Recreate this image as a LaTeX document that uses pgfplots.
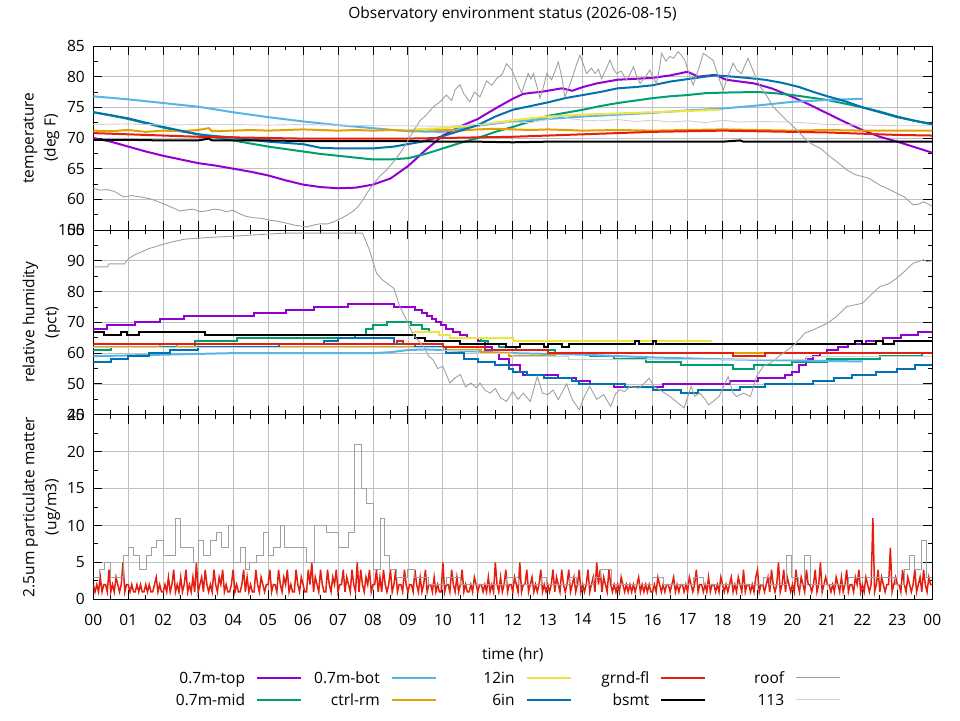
\documentclass[border=0pt]{standalone}
\usepackage{fontspec}
\setmainfont{Open Sans}
\usepackage{pgfplots}
\pgfplotsset{compat=1.18}
\usepackage{pgfplotstable}
\definecolor{cpurple}{HTML}{9400D3}
\definecolor{cgreen}{HTML}{009E73}
\definecolor{clblue}{HTML}{56B4E9}
\definecolor{corange}{HTML}{E69F00}
\definecolor{cyellow}{HTML}{F0E442}
\definecolor{cblue}{HTML}{0072B2}
\definecolor{cred}{HTML}{E51E10}
\definecolor{croof}{HTML}{A0A0A0}
\definecolor{cone}{HTML}{D0D0D0}
\definecolor{cgrid}{HTML}{C0C0C0}
\pgfplotsset{
  panel/.style={
    scale only axis, width=839pt, xmin=0, xmax=24,
    xtick={0,...,24}, minor x tick num=1, minor y tick num=1,
    tick align=inside, major tick length=9pt, minor tick length=4.5pt,
    grid=major, major grid style={cgrid, line width=0.8pt},
    axis line style={line width=0.9pt},
    every tick/.append style={black, line width=0.9pt},
    yticklabel style={xshift=-5pt},
    /pgf/number format/assume math mode=true,
    ylabel style={align=center, at={(axis description cs:-0.062,0.5)}, anchor=center, font=\fontsize{15.5}{22}\selectfont},
    anchor=south west,
  },
  main/.style={line width=2pt},
  thin/.style={line width=0.9pt},
}
% 2.5um particulate matter, grnd-fl, one value every 3 minutes
\pgfplotstableread[row sep=\\]{
y\\
2\\1\\2\\1\\3\\1\\2\\2\\1\\4\\1\\2\\1\\3\\2\\1\\2\\5\\1\\2\\
2\\1\\2\\1\\1\\2\\1\\2\\1\\1\\2\\1\\2\\1\\1\\2\\3\\1\\2\\1\\
1\\2\\1\\3\\1\\2\\4\\1\\2\\1\\3\\1\\2\\4\\1\\2\\1\\3\\1\\5\\
1\\2\\3\\1\\4\\2\\1\\2\\1\\4\\2\\1\\3\\2\\4\\1\\2\\1\\1\\2\\
4\\1\\2\\1\\1\\2\\4\\1\\3\\1\\2\\1\\1\\4\\2\\1\\3\\2\\1\\2\\
2\\4\\1\\2\\2\\1\\4\\2\\1\\3\\2\\4\\1\\2\\1\\1\\4\\2\\1\\3\\
2\\1\\1\\4\\2\\5\\1\\3\\2\\1\\4\\2\\1\\1\\4\\2\\1\\3\\2\\4\\
1\\2\\2\\4\\1\\3\\2\\1\\4\\2\\1\\5\\1\\4\\2\\1\\3\\2\\4\\1\\
2\\2\\4\\1\\3\\1\\4\\2\\1\\2\\4\\1\\2\\4\\1\\2\\2\\1\\4\\2\\
1\\2\\2\\1\\4\\2\\1\\3\\1\\2\\4\\1\\2\\2\\1\\3\\1\\2\\1\\1\\
5\\1\\2\\2\\1\\4\\2\\1\\3\\1\\2\\4\\1\\2\\1\\1\\2\\1\\3\\2\\
1\\2\\2\\1\\2\\1\\3\\1\\2\\1\\5\\2\\1\\3\\1\\2\\4\\1\\2\\2\\
1\\3\\2\\1\\5\\1\\2\\2\\4\\1\\2\\3\\1\\2\\1\\2\\4\\1\\2\\1\\
2\\1\\2\\4\\1\\3\\2\\1\\4\\2\\1\\2\\4\\1\\2\\3\\1\\2\\4\\1\\
2\\1\\2\\4\\1\\2\\3\\1\\5\\2\\4\\1\\3\\2\\1\\4\\2\\1\\2\\1\\
2\\1\\3\\2\\1\\2\\1\\2\\1\\2\\1\\2\\3\\1\\2\\1\\2\\1\\2\\1\\
1\\2\\1\\3\\2\\1\\2\\1\\2\\2\\1\\2\\3\\1\\2\\1\\2\\2\\1\\2\\
1\\3\\2\\1\\2\\4\\1\\2\\2\\1\\2\\1\\3\\1\\2\\2\\1\\2\\1\\3\\
2\\1\\2\\1\\2\\3\\1\\2\\1\\3\\2\\1\\4\\1\\2\\2\\1\\2\\1\\3\\
4\\1\\2\\2\\1\\2\\3\\1\\4\\2\\1\\2\\5\\1\\2\\4\\1\\3\\2\\1\\
2\\1\\4\\2\\1\\3\\2\\1\\4\\2\\2\\1\\2\\4\\1\\2\\5\\1\\2\\3\\
2\\2\\1\\2\\1\\3\\2\\1\\3\\1\\2\\4\\1\\2\\2\\1\\3\\2\\4\\1\\
2\\1\\3\\2\\1\\2\\11\\1\\2\\4\\1\\3\\2\\1\\2\\2\\7\\1\\2\\3\\
2\\2\\1\\4\\2\\1\\3\\2\\1\\2\\4\\1\\2\\3\\1\\4\\2\\1\\3\\2\\
2\\
}\pmred
\begin{document}
\begin{tikzpicture}[font=\fontsize{15.5}{18}\selectfont]
\path[use as bounding box] (0,0) rectangle (960pt,720pt);
\node at (512.5pt,706pt) {Observatory environment status (2026-08-15)};
% ---------------- temperature ----------------
\begin{axis}[panel, at={(93.3pt,490pt)}, height=184pt,
  ymin=55, ymax=85, ytick={55,60,...,85}, xticklabels={},
  ylabel={temperature\\(deg F)}]
\addplot[cpurple, main] coordinates {(0,70.0)(0.5,69.4)(1,68.6)(1.5,67.8)(2,67.1)(2.5,66.5)(3,65.9)(3.5,65.5)(4,65.0)(4.5,64.5)(5,63.9)(5.5,63.1)(6,62.4)(6.5,62.0)(7,61.8)(7.5,61.9)(8,62.4)(8.5,63.4)(9,65.4)(9.5,68.0)(10,70.4)(10.5,71.9)(11,73.1)(11.5,74.8)(12,76.4)(12.3,77.2)(12.9,77.6)(13.4,78.1)(13.7,77.7)(14.0,78.3)(14.4,78.9)(15.0,79.5)(16.0,79.8)(16.5,80.2)(17.0,80.8)(17.3,80.0)(17.8,80.3)(18.1,79.5)(18.9,78.9)(19.4,78.1)(20.0,76.7)(20.5,75.4)(21.0,74.0)(21.5,72.6)(22.0,71.3)(22.5,70.2)(23.0,69.4)(23.5,68.5)(24,67.6)};
\addplot[cgreen, main] coordinates {(0,74.2)(0.5,73.7)(1,73.1)(1.5,72.4)(2,71.7)(2.5,71.1)(3,70.6)(3.5,70.1)(4,69.6)(4.5,69.1)(5,68.6)(5.5,68.2)(6,67.8)(6.5,67.4)(7,67.1)(7.5,66.8)(8,66.5)(8.5,66.5)(9,66.7)(9.5,67.4)(10,68.3)(10.5,69.2)(11,70.0)(11.5,71.0)(12,71.8)(12.5,72.7)(13,73.6)(13.5,74.1)(14,74.6)(14.5,75.2)(15,75.7)(15.5,76.1)(16,76.5)(16.5,76.8)(17,77.0)(17.5,77.3)(18,77.4)(19,77.5)(19.5,77.3)(20,77.0)(20.5,76.6)(21,76.2)(21.5,75.6)(22,75.0)(22.5,74.3)(23,73.5)(23.5,72.8)(24,72.2)};
\addplot[clblue, main] coordinates {(0,76.8)(1,76.3)(2,75.7)(3,75.1)(4,74.2)(5,73.4)(6,72.7)(7,72.1)(8,71.6)(9,71.1)(10,71.0)(11,72.0)(12,72.7)(13,73.1)(14,73.5)(15,73.8)(16,74.1)(17,74.5)(18,74.8)(19,75.3)(20,75.9)(21,76.2)(22,76.4)};
\addplot[corange, main] coordinates {(0,71.2)(0.5,71.1)(1,71.3)(1.5,71.0)(2,71.2)(2.5,71.1)(3,71.3)(3.3,71.6)(3.4,71.1)(4,71.2)(4.5,71.3)(5,71.2)(5.5,71.3)(6,71.4)(6.5,71.3)(7,71.2)(7.5,71.3)(8,71.2)(8.5,71.3)(9,71.2)(9.5,71.4)(10,71.3)(10.5,71.2)(11,71.4)(11.5,71.5)(12,71.4)(12.5,71.3)(13,71.4)(13.5,71.3)(14,71.2)(15,71.3)(16,71.2)(17,71.3)(18,71.4)(19,71.3)(20,71.2)(21,71.3)(22,71.2)(23,71.2)(24,71.2)};
\addplot[cyellow, main] coordinates {(9.15,71.4)(10,71.6)(11,72.1)(12,72.9)(13,73.5)(14,73.8)(15,74.0)(16,74.2)(17,74.4)(17.9,74.6)};
\addplot[cblue, main] coordinates {(0,74.2)(0.5,73.7)(1,73.2)(1.5,72.5)(2,71.8)(2.5,71.2)(3,70.6)(3.5,70.3)(4,70.1)(4.5,69.7)(5,69.4)(5.5,69.2)(6,69.0)(6.5,68.4)(7,68.3)(7.5,68.3)(8,68.3)(8.6,68.6)(9.0,69.0)(9.4,69.4)(10,70.3)(10.5,71.2)(11,72.1)(11.5,73.5)(12,74.6)(12.5,75.2)(13,75.8)(13.5,76.5)(14,77.0)(14.5,77.5)(15,78.1)(15.5,78.3)(16,78.6)(16.5,79.2)(17,79.6)(17.5,80.0)(17.8,80.2)(18.3,80.0)(18.7,79.8)(19.2,79.5)(19.7,79.0)(20.2,78.3)(20.6,77.5)(21,76.8)(21.5,76.0)(22,75.0)(22.5,74.2)(23,73.4)(23.5,72.8)(24,72.3)};
\addplot[cred, main] coordinates {(0,70.8)(1,70.6)(2,70.4)(3,70.2)(4,70.1)(5,70.0)(6,69.9)(7,69.9)(8,69.9)(9,69.9)(10,70.0)(11,70.1)(12,70.2)(13,70.4)(14,70.6)(15,70.8)(16,71.0)(17,71.1)(18,71.2)(19,71.1)(20,71.0)(21,70.9)(22,70.7)(23,70.5)(24,70.4)};
\addplot[black, main] coordinates {(0,69.7)(1,69.7)(2,69.6)(3,69.6)(3.3,69.9)(3.4,69.6)(4,69.6)(5,69.6)(6,69.5)(7,69.5)(8,69.5)(9,69.5)(10,69.4)(11,69.4)(12,69.3)(13,69.4)(14,69.4)(15,69.4)(16,69.4)(17,69.4)(18,69.4)(18.5,69.6)(18.6,69.4)(20,69.4)(22,69.4)(24,69.4)};
\addplot[croof, thin] coordinates {(0,61.8)(0.2,61.5)(0.38,61.6)(0.6,61.3)(0.86,60.4)(1.1,60.6)(1.34,60.4)(1.62,60.1)(1.91,59.5)(2.2,58.8)(2.48,58.1)(2.7,58.3)(2.86,58.4)(3.05,58.0)(3.24,58.1)(3.45,58.4)(3.62,58.3)(3.8,58.0)(4.0,58.2)(4.2,57.6)(4.38,57.2)(4.6,57.0)(4.8,56.9)(5.05,56.6)(5.3,56.4)(5.53,56.1)(5.75,55.8)(6.0,55.6)(6.1,55.5)(6.3,55.8)(6.48,56.0)(6.7,56.0)(6.86,56.3)(7.05,56.8)(7.25,57.4)(7.44,58.1)(7.6,59.0)(7.72,60.0)(7.86,61.3)(8.0,62.4)(8.2,63.8)(8.39,64.8)(8.6,66.2)(8.77,67.5)(8.9,68.6)(9.06,70.2)(9.2,71.5)(9.34,72.8)(9.5,73.6)(9.73,75.1)(9.9,75.8)(10.1,77.0)(10.25,76.1)(10.35,77.9)(10.49,78.7)(10.6,77.2)(10.77,75.9)(10.9,77.5)(11.06,76.7)(11.25,79.3)(11.4,78.6)(11.54,79.7)(11.7,80.4)(11.82,82.1)(11.97,81.1)(12.11,79.2)(12.25,77.3)(12.35,79.0)(12.44,80.5)(12.52,79.6)(12.59,80.5)(12.78,76.5)(12.9,78.8)(12.97,80.5)(13.11,79.5)(13.2,80.8)(13.3,82.4)(13.4,80.0)(13.49,76.7)(13.6,78.2)(13.68,79.5)(13.8,81.6)(13.92,83.5)(14.02,82.0)(14.11,80.5)(14.25,81.4)(14.35,80.5)(14.45,81.2)(14.54,79.7)(14.65,81.0)(14.78,82.7)(14.88,81.2)(14.97,80.5)(15.1,80.9)(15.25,79.5)(15.35,80.4)(15.45,81.6)(15.55,80.0)(15.64,78.9)(15.8,80.0)(15.92,81.1)(16.0,80.0)(16.11,78.9)(16.2,81.5)(16.26,83.8)(16.38,82.5)(16.49,83.3)(16.6,83.0)(16.73,84.1)(16.82,83.5)(16.92,82.7)(17.05,80.3)(17.16,78.6)(17.3,81.0)(17.45,83.8)(17.6,83.2)(17.73,82.7)(17.88,80.0)(18.02,77.8)(18.15,80.0)(18.3,82.2)(18.42,81.0)(18.54,80.5)(18.65,82.0)(18.73,83.0)(18.9,80.6)(19.07,78.4)(19.25,77.0)(19.45,75.1)(19.6,74.2)(19.83,72.9)(20.0,72.0)(20.21,70.8)(20.4,69.6)(20.59,68.9)(20.8,68.3)(21.07,67.0)(21.3,66.0)(21.55,64.8)(21.8,64.0)(22.02,63.7)(22.2,63.4)(22.5,62.3)(22.7,61.8)(22.98,61.0)(23.2,60.4)(23.45,59.1)(23.6,59.2)(23.74,59.6)(23.93,59.1)(24,58.8)};
\addplot[cone, thin] coordinates {(0,72.2)(1,72.3)(2,72.1)(3,72.2)(4,72.2)(5,72.1)(6,72.2)(7,72.1)(8,72.0)(9,72.0)(10,71.9)(11,72.2)(12,72.6)(12.5,72.5)(13,73.0)(13.3,73.7)(13.6,73.2)(14,72.9)(14.5,72.8)(15,73.0)(15.5,72.7)(16,72.9)(16.5,72.6)(17,72.8)(17.5,72.5)(18,72.9)(18.5,72.6)(19,72.7)(20,72.6)(21,72.2)(22,72.1)(23,72.0)(24,72.0)};
\end{axis}
% ---------------- humidity ----------------
\begin{axis}[panel, at={(93.3pt,305.3pt)}, height=184.7pt,
  ymin=40, ymax=100, ytick={40,50,...,100}, xticklabels={},
  ylabel={relative humidity\\(pct)}]
\addplot[cpurple, main, const plot] coordinates {(0,68)(0.4,69)(1.2,70)(1.9,71)(2.6,72)(4.6,73)(5.5,74)(6.3,75)(7.3,76)(8.6,75)(9.2,74)(9.4,73)(9.55,72)(9.7,71)(9.8,70)(9.95,69)(10.1,68)(10.3,67)(10.5,66)(10.7,65)(11.0,64)(11.2,62)(11.4,60)(11.6,58)(11.9,56)(12.2,54)(12.3,53)(13.3,52)(13.8,51)(14.2,50)(14.9,49)(16.3,50)(18.2,51)(19.0,52)(19.8,53)(20.0,54)(20.2,56)(20.4,58)(20.6,59)(20.8,60)(21.0,61)(21.3,62)(21.6,63)(22.1,64)(22.6,65)(23.1,66)(23.6,67)(24,67)};
\addplot[cgreen, main, const plot] coordinates {(0,61)(0.5,62)(2.9,64)(4.1,65)(7.5,66)(7.8,68)(8.0,69)(8.4,70)(9.1,69)(9.4,68)(9.6,67)(9.9,66)(10.2,65)(11.1,64)(11.3,63)(11.6,62)(12.1,61)(13.2,60)(14.2,59)(14.9,58)(15.8,57)(16.8,56)(18.3,55)(18.9,56)(20.0,57)(21.0,58)(22.5,59)(23.7,60)(24,60)};
\addplot[clblue, main] coordinates {(0,59)(2,59.5)(4,60)(6,60)(8,60)(8.5,60.3)(9,61)(9.5,61.2)(10,61)(11,60.5)(12,60)(14,59.5)(16,58.6)(18,58)(20,57.6)(22,57.3)};
\addplot[corange, main, const plot] coordinates {(0,62)(1.9,63)(2.4,62)(10.0,61)(11.1,60)(11.9,59)(13.2,60)(24,60)};
\addplot[cyellow, main, const plot] coordinates {(9.15,67)(9.9,66)(10.2,65)(12.0,64)(17.7,64)};
\addplot[cblue, main, const plot] coordinates {(0,57)(0.5,58)(1.0,59)(1.6,60)(2.2,61)(3.0,62)(5.3,63)(6.6,64)(7.0,65)(8.6,63)(9.2,62)(10.1,60)(10.6,58)(11.0,57)(11.5,56)(11.9,55)(12.0,54)(12.4,53)(12.9,52)(13.7,51)(13.9,50)(15.2,49)(16.0,48)(16.8,47)(17.3,48)(18.5,49)(19.2,50)(20.6,51)(21.2,52)(21.7,53)(22.4,54)(23.0,55)(23.5,56)(24,56)};
\addplot[cred, main, const plot] coordinates {(0,63)(8.7,64)(8.85,63)(10.0,62)(11.2,61)(13.0,60)(18.3,59)(19.2,60)(24,60)};
\addplot[black, main, const plot] coordinates {(0,67)(0.3,66)(0.8,67)(0.95,66)(1.3,67)(3.2,66)(9.2,65)(9.5,64)(10.5,63)(11.8,62)(12.2,63)(12.9,62)(13.0,63)(13.4,62)(13.6,63)(15.5,64)(15.6,63)(16.0,64)(16.1,63)(21.8,64)(22.0,63)(22.4,64)(22.6,63)(22.9,64)(24,64)};
\addplot[croof, thin] coordinates {(0,88)(0.4,88)(0.45,89)(0.9,89)(0.95,90)(1.05,91)(1.2,92)(1.4,93)(1.6,94)(1.9,95)(2.2,96)(2.6,97)(3.2,97.5)(4,98)(5.5,99)(7.7,99)(7.9,93.5)(8.1,86)(8.25,84)(8.4,82.7)(8.6,81)(8.77,75)(8.96,70.8)(9.15,66)(9.3,64)(9.44,62.2)(9.6,59)(9.72,57.8)(9.85,55)(10.0,55.7)(10.2,50.3)(10.35,52)(10.5,53)(10.65,49)(10.8,50.3)(10.96,48.7)(11.06,50.3)(11.2,48)(11.35,47.0)(11.5,48.5)(11.65,45.5)(11.82,44.3)(12.0,47.5)(12.15,45)(12.3,47)(12.5,44.3)(12.7,52.4)(12.85,47)(13.0,46.5)(13.15,48)(13.3,44.9)(13.54,50)(13.7,45)(13.9,41.6)(14.05,46)(14.2,49.2)(14.4,45)(14.6,46.5)(14.8,42.7)(14.95,47)(15.06,48.1)(15.2,47.5)(15.35,49.2)(15.6,48.6)(15.75,50)(15.9,51.9)(16.05,49)(16.2,48.1)(16.35,47)(16.5,45.9)(16.7,44)(16.9,42.2)(17.1,49.2)(17.2,46)(17.35,47.0)(17.5,45)(17.6,43.2)(17.75,44.5)(17.9,45.9)(18.16,52.4)(18.3,47)(18.4,45.9)(18.6,47)(18.8,45.9)(18.97,52.4)(19.16,55.7)(19.4,57)(19.6,58.9)(19.85,61)(20.1,63.2)(20.35,66.5)(20.6,67.6)(21.0,69.7)(21.26,71.9)(21.55,75.1)(22.0,76.2)(22.25,79)(22.5,81.6)(22.75,82.5)(22.98,84.3)(23.2,86.5)(23.45,89.2)(23.74,90.3)(23.85,89.8)(24,90)};
\addplot[cone, thin, const plot] coordinates {(0,62)(10,61)(11,60)(12,59)(13.6,58)(20.4,59)(24,59)};
\end{axis}
% ---------------- particulate ----------------
\begin{axis}[panel, at={(93.3pt,120.7pt)}, height=184.6pt,
  ymin=0, ymax=25, ytick={0,5,...,25},
  xticklabels={00,01,02,03,04,05,06,07,08,09,10,11,12,13,14,15,16,17,18,19,20,21,22,23,00},
  xticklabel style={yshift=-11pt},
  xlabel={time (hr)}, xlabel style={at={(axis description cs:0.5,0)}, anchor=center, yshift=-56pt},
  ylabel={2.5um particulate matter\\(ug/m3)},
  legend columns=5, legend plot pos=right, legend cell align=left,
  legend image code/.code={\draw[#1] (0pt,1.75pt) -- (44pt,1.75pt);},
  legend style={draw=none, fill=none, inner sep=0pt, outer sep=0pt, row sep=7.5pt,
    nodes={inner sep=0pt, text height=11pt, text depth=3.5pt},
    /tikz/every odd column/.append style={column sep=11pt},
    /tikz/every even column/.append style={column sep=5.8pt},
    at={(0.095,-0.3955)}, anchor=north west}]
\addplot[cred, line width=1.5pt, forget plot] table[x expr=\coordindex/20, y=y] {\pmred};
\addplot[croof, thin, const plot, forget plot] coordinates {(0,3)(0.19,4)(0.33,5)(0.48,3)(0.86,6)(1.0,7)(1.14,6)(1.33,4)(1.53,6)(1.67,7)(1.81,8)(2.0,6)(2.34,11)(2.48,7)(2.86,5)(3.0,8)(3.15,6)(3.34,8)(3.53,9)(3.67,7)(3.86,10)(4.0,5)(4.2,7)(4.34,4)(4.48,5)(4.67,6)(4.86,9)(5.0,6)(5.15,7)(5.34,10)(5.48,7)(6.1,5)(6.34,10)(6.67,9)(7.0,7)(7.29,9)(7.48,21)(7.67,15)(7.82,13)(8.0,4)(8.2,11)(8.34,6)(8.48,4)(8.67,3)(9.0,4)(9.2,3)(9.6,2)(10.1,3)(10.5,2)(11.82,3)(12.15,2)(12.82,3)(12.97,2)(13.63,3)(13.82,2)(14.3,3)(14.5,4)(14.83,2)(16.0,3)(16.3,2)(17.16,3)(17.45,2)(19.16,3)(19.35,2)(19.83,6)(19.97,3)(20.16,2)(20.35,6)(20.5,2)(21.6,3)(22.95,2)(23.2,4)(23.36,6)(23.5,4)(23.7,8)(23.84,3)(24,3)};
\addlegendimage{cpurple, main}\addlegendentry{\makebox[72pt][r]{0.7m-top}}
\addlegendimage{clblue, main}\addlegendentry{\makebox[72pt][r]{0.7m-bot}}
\addlegendimage{cyellow, main}\addlegendentry{\makebox[72pt][r]{12in}}
\addlegendimage{cred, main}\addlegendentry{\makebox[72pt][r]{grnd-fl}}
\addlegendimage{croof, thin}\addlegendentry{\makebox[72pt][r]{roof}}
\addlegendimage{cgreen, main}\addlegendentry{\makebox[72pt][r]{0.7m-mid}}
\addlegendimage{corange, main}\addlegendentry{\makebox[72pt][r]{ctrl-rm}}
\addlegendimage{cblue, main}\addlegendentry{\makebox[72pt][r]{6in}}
\addlegendimage{black, main}\addlegendentry{\makebox[72pt][r]{bsmt}}
\addlegendimage{cone, thin}\addlegendentry{\makebox[72pt][r]{113}}
\end{axis}
\end{tikzpicture}
\end{document}
